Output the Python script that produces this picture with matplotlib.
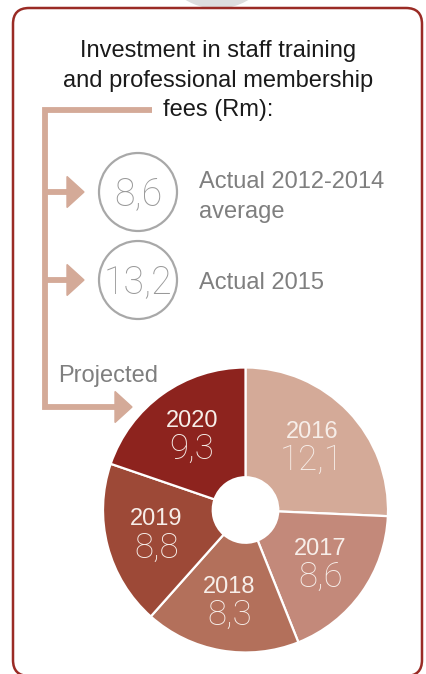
import matplotlib.pyplot as plt
import matplotlib.patches as mpatches
import numpy as np

W, H = 427, 674

# projected spend per year (Rm)
years = ["2016", "2017", "2018", "2019", "2020"]
values = [12.1, 8.6, 8.3, 8.8, 9.3]
colors = ["#D4AA98", "#C3897A", "#B3705B", "#9D4937", "#8D231E"]

# actuals shown in the circles
actual_values = ["8,6", "13,2"]
actual_labels = [["Actual 2012-2014", "average"], ["Actual 2015"]]

title_lines = ["Investment in staff training",
               "and professional membership",
               "fees (Rm):"]

plt.rcParams['font.family'] = ['Liberation Sans', 'DejaVu Sans']
light = dict(family=["Roboto", "DejaVu Sans"], fontweight="light")

fig = plt.figure(figsize=(W / 100, H / 100), dpi=100, facecolor="white")
ax = fig.add_axes([0, 0, 1, 1])
ax.set_xlim(0, W)
ax.set_ylim(H, 0)
ax.axis("off")

bracket = "#D4AA98"
grey = "#A8A8A8"

# grey tab peeking over the frame
ax.add_patch(mpatches.Circle((217, -52), 60, color="#DCDDDE", zorder=1))

# rounded frame
frame = mpatches.FancyBboxPatch((13, 8), 409, 668, boxstyle="round,pad=0,rounding_size=16",
                                facecolor="white", edgecolor="#9A2B25", lw=1.8, zorder=2)
ax.add_patch(frame)

# title
for i, line in enumerate(title_lines):
    ax.text(218, 57 + i * 29.5, line, ha="center", va="baseline", fontsize=17,
            color="#1A1A1A", zorder=5)

# bracket with arrows
ax.plot([152, 45, 45, 115], [109.5, 109.5, 407, 407], color=bracket, lw=4.2,
        solid_joinstyle="miter", solid_capstyle="butt", zorder=3)
for y, x0, x1 in [(192, 45, 67), (280, 45, 67)]:
    ax.plot([x0, x1], [y, y], color=bracket, lw=4.2, solid_capstyle="butt", zorder=3)
for y, x1 in [(192, 67), (280, 67), (407, 115)]:
    ax.add_patch(mpatches.Polygon([(x1, y - 15.5), (x1 + 17, y), (x1, y + 15.5)],
                                  closed=True, color=bracket, zorder=3))

# actual value circles
for cy, val, lab, ly in zip([192, 280], actual_values, actual_labels, [188, 289]):
    ax.add_patch(mpatches.Circle((138, cy), 39, fill=False, edgecolor=grey, lw=1.6, zorder=3))
    ax.text(138, cy + 13.5, val, ha="center", va="baseline", fontsize=27, color="#999999",
            zorder=4, **light)
    for j, s in enumerate(lab):
        ax.text(199, ly + j * 30, s, ha="left", va="baseline", fontsize=17, color="#7F7F7F",
                zorder=4)

ax.text(58, 382, "Projected", ha="left", va="baseline", fontsize=17, color="#7F7F7F", zorder=4)

# projected donut
cx, cy, R = 245.5, 510, 142.5
pax = fig.add_axes([(cx - R) / W, (H - cy - R) / H, 2 * R / W, 2 * R / H])
wedges, _ = pax.pie(values, colors=colors, startangle=90, counterclock=False, radius=1,
                    wedgeprops=dict(width=0.77, edgecolor="white", linewidth=1.6))
pax.set_xlim(-1, 1)
pax.set_ylim(-1, 1)
pax.set_aspect("equal")
pax.axis("off")

for w, yr, v in zip(wedges, years, values):
    ang = np.deg2rad((w.theta1 + w.theta2) / 2)
    x, y = 0.646 * np.cos(ang), 0.646 * np.sin(ang)
    pax.text(x, y + 8 / R, yr, ha="center", va="baseline", fontsize=17, color="#F7EEE9")
    pax.text(x, y - 24 / R, f"{v:.1f}".replace(".", ","), ha="center", va="baseline",
             fontsize=25, color="#F7EEE9", **light)

fig.savefig("out.png", dpi=100, facecolor="white")
